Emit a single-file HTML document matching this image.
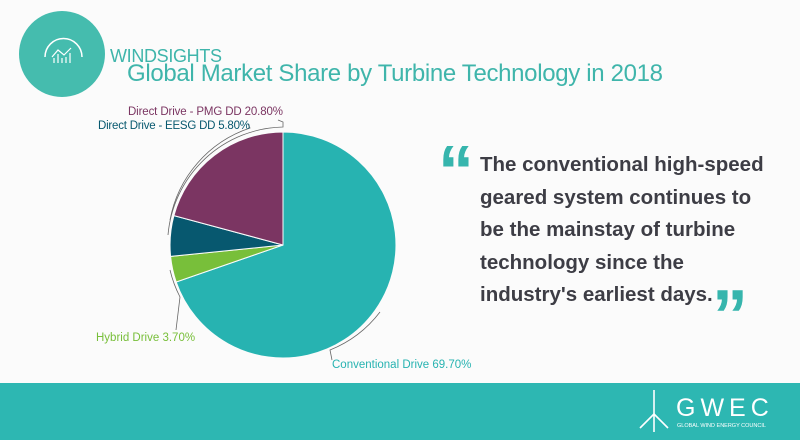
<!DOCTYPE html>
<html><head><meta charset="utf-8"><style>
body{margin:0;width:800px;height:440px;overflow:hidden;background:#fbfbfb;font-family:"Liberation Sans",sans-serif;position:relative}
.q{position:absolute;left:480px;top:149px;font-size:20.5px;font-weight:bold;color:#3d3d45;line-height:32.5px;white-space:nowrap}
</style></head><body>
<svg width="800" height="440" style="position:absolute;left:0;top:0">
<circle cx="62" cy="54" r="43" fill="#45bcae"/>
<path d="M45 57 A18 18 0 0 1 82 57" fill="none" stroke="#fff" stroke-width="1.5"/>
<polyline points="52,57 58,50 64,55 71,48" fill="none" stroke="#fff" stroke-width="1.2"/>
<g stroke="#fff" stroke-width="1.2"><line x1="54" y1="58" x2="54" y2="63"/><line x1="58" y1="54" x2="58" y2="63"/><line x1="62" y1="58" x2="62" y2="63"/><line x1="66" y1="57" x2="66" y2="63"/><line x1="70" y1="53" x2="70" y2="63"/></g>
<text x="110" y="62" font-size="18" fill="#3fb5ab" textLength="112" font-family="Liberation Sans,sans-serif">WINDSIGHTS</text>
<text x="127" y="81" font-size="24" fill="#3fb5ab" textLength="536" font-family="Liberation Sans,sans-serif">Global Market Share by Turbine Technology in 2018</text>
<g stroke="#fbfbfb" stroke-width="1">
<path d="M283 245 L283 132 A113 113 0 1 1 176.2 282 Z" fill="#27b3b1"/>
<path d="M283 245 L176.2 282 A113 113 0 0 1 170.6 256.4 Z" fill="#78bf3a"/>
<path d="M283 245 L170.6 256.4 A113 113 0 0 1 173.9 215.6 Z" fill="#07586f"/>
<path d="M283 245 L173.9 215.6 A113 113 0 0 1 283 132 Z" fill="#7b3562"/>
</g>
<g fill="none" stroke="#666" stroke-width="0.8">
<path d="M168 235 A118 118 0 0 1 283 127 L283 122 L278 120"/>
<path d="M170 220 A120 120 0 0 1 250 128 L248 124"/>
<path d="M170 270 A118 118 0 0 0 180 297 L176 330"/>
<path d="M380 312 A118 118 0 0 1 330 350 L332 360"/>
</g>
<text x="128" y="115" font-size="11.5" fill="#7b3562" textLength="155" font-family="Liberation Sans,sans-serif">Direct Drive - PMG DD 20.80%</text>
<text x="98" y="129" font-size="11.5" fill="#07586f" textLength="152" font-family="Liberation Sans,sans-serif">Direct Drive - EESG DD 5.80%</text>
<text x="96" y="341" font-size="11.5" fill="#78bf3a" font-family="Liberation Sans,sans-serif">Hybrid Drive 3.70%</text>
<text x="332" y="368" font-size="11.5" fill="#27b3b1" font-family="Liberation Sans,sans-serif">Conventional Drive 69.70%</text>
<text x="438" y="196" font-size="72" font-weight="bold" fill="#36b5ad" font-family="Liberation Sans,sans-serif">“</text>
<text x="712" y="340" font-size="72" font-weight="bold" fill="#36b5ad" font-family="Liberation Sans,sans-serif">”</text>
<rect x="0" y="383" width="800" height="57" fill="#2db7b2"/>
<g stroke="#fff" stroke-width="1.6" fill="none"><line x1="654" y1="390" x2="654" y2="432"/><line x1="654" y1="414" x2="640" y2="428"/><line x1="654" y1="414" x2="668" y2="428"/></g>
<text x="676" y="416" font-size="25" fill="#fff" letter-spacing="5" font-family="Liberation Sans,sans-serif">GWEC</text>
<text x="677" y="427" font-size="5.5" fill="#fff" font-family="Liberation Sans,sans-serif">GLOBAL WIND ENERGY COUNCIL</text>
</svg>
<div class="q">The conventional high-speed<br>geared system continues to<br>be the mainstay of turbine<br>technology since the<br>industry's earliest days.</div>
</body></html>
